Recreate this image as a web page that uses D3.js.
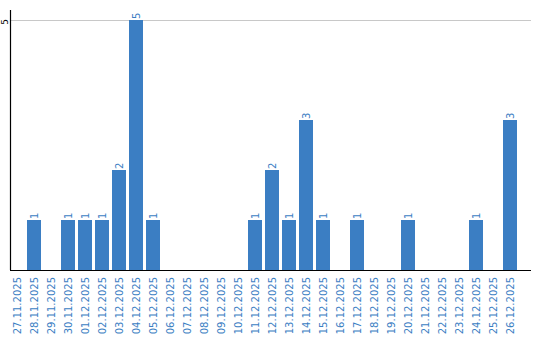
<!DOCTYPE html>
<html>
<head>
<meta charset="utf-8">
<script src="https://cdn.jsdelivr.net/npm/d3@7"></script>
<style>
  body { margin: 0; background: #fff; }
  svg { display: block; }
</style>
</head>
<body>
<div id="chart"></div>
<script>
// data
const dates = [
  "27.11.2025", "28.11.2025", "29.11.2025", "30.11.2025", "01.12.2025",
  "02.12.2025", "03.12.2025", "04.12.2025", "05.12.2025", "06.12.2025",
  "07.12.2025", "08.12.2025", "09.12.2025", "10.12.2025", "11.12.2025",
  "12.12.2025", "13.12.2025", "14.12.2025", "15.12.2025", "16.12.2025",
  "17.12.2025", "18.12.2025", "19.12.2025", "20.12.2025", "21.12.2025",
  "22.12.2025", "23.12.2025", "24.12.2025", "25.12.2025", "26.12.2025"
];
const counts = [0, 1, 0, 1, 1, 1, 2, 5, 1, 0, 0, 0, 0, 0, 1, 2, 1, 3, 1, 0, 1, 0, 0, 1, 0, 0, 0, 1, 0, 3];
const yTicks = [5];

const data = dates.map((d, i) => ({ date: d, value: counts[i] }));

(function drawChart() {
  const width = 540, height = 340;
  const margin = { left: 10, right: 531, top: 20, bottom: 270 };
  const blue = "#3b7ec3";
  const font = "'DejaVu Sans', sans-serif";

  const svg = d3.select("#chart").append("svg")
    .attr("width", width)
    .attr("height", height)
    .style("font-family", font);

  // échelles
  const x = d3.scaleBand().domain(dates).range([margin.left, 520]).padding(0);
  const y = d3.scaleLinear().domain([0, 5]).range([margin.bottom, margin.top]);
  const barW = x.step() - 3;

  // grille
  svg.selectAll(".grid")
    .data(yTicks)
    .enter().append("line")
    .attr("x1", margin.left).attr("x2", margin.right)
    .attr("y1", (d) => y(d) + 0.5).attr("y2", (d) => y(d) + 0.5)
    .attr("stroke", "#c8c8c8")
    .attr("stroke-width", 1);

  // barres
  svg.selectAll(".bar")
    .data(data.filter((d) => d.value > 0))
    .enter().append("rect")
    .attr("x", (d) => x(d.date))
    .attr("y", (d) => y(d.value))
    .attr("width", barW)
    .attr("height", (d) => y(0) - y(d.value))
    .attr("fill", blue);

  // valeurs
  svg.selectAll(".val")
    .data(data.filter((d) => d.value > 0))
    .enter().append("text")
    .attr("transform", (d) => `translate(${x(d.date) + barW / 2},${y(d.value) - 1}) rotate(-90)`)
    .attr("dy", "0.35em")
    .attr("text-anchor", "start")
    .style("font-size", "10px")
    .style("fill", blue)
    .text((d) => d.value);

  // axes
  svg.append("line")
    .attr("x1", margin.left + 0.5).attr("x2", margin.left + 0.5)
    .attr("y1", 10).attr("y2", margin.bottom)
    .attr("stroke", "#000").attr("stroke-width", 1.2);

  svg.append("line")
    .attr("x1", margin.left).attr("x2", margin.right)
    .attr("y1", margin.bottom + 0.5).attr("y2", margin.bottom + 0.5)
    .attr("stroke", "#000").attr("stroke-width", 1.2);

  svg.selectAll(".ytick")
    .data(yTicks)
    .enter().append("text")
    .attr("transform", (d) => `translate(5,${y(d) + 2}) rotate(-90)`)
    .attr("dy", "0.35em")
    .attr("text-anchor", "middle")
    .style("font-size", "9px")
    .style("fill", "#000")
    .text((d) => d);

  svg.selectAll(".xlabel")
    .data(dates)
    .enter().append("text")
    .attr("transform", (d) => `translate(${x(d) + barW / 2},277) rotate(-90)`)
    .attr("dy", "0.35em")
    .attr("text-anchor", "end")
    .style("font-size", "10px")
    .style("fill", blue)
    .text((d) => d);
})();
</script>
</body>
</html>
